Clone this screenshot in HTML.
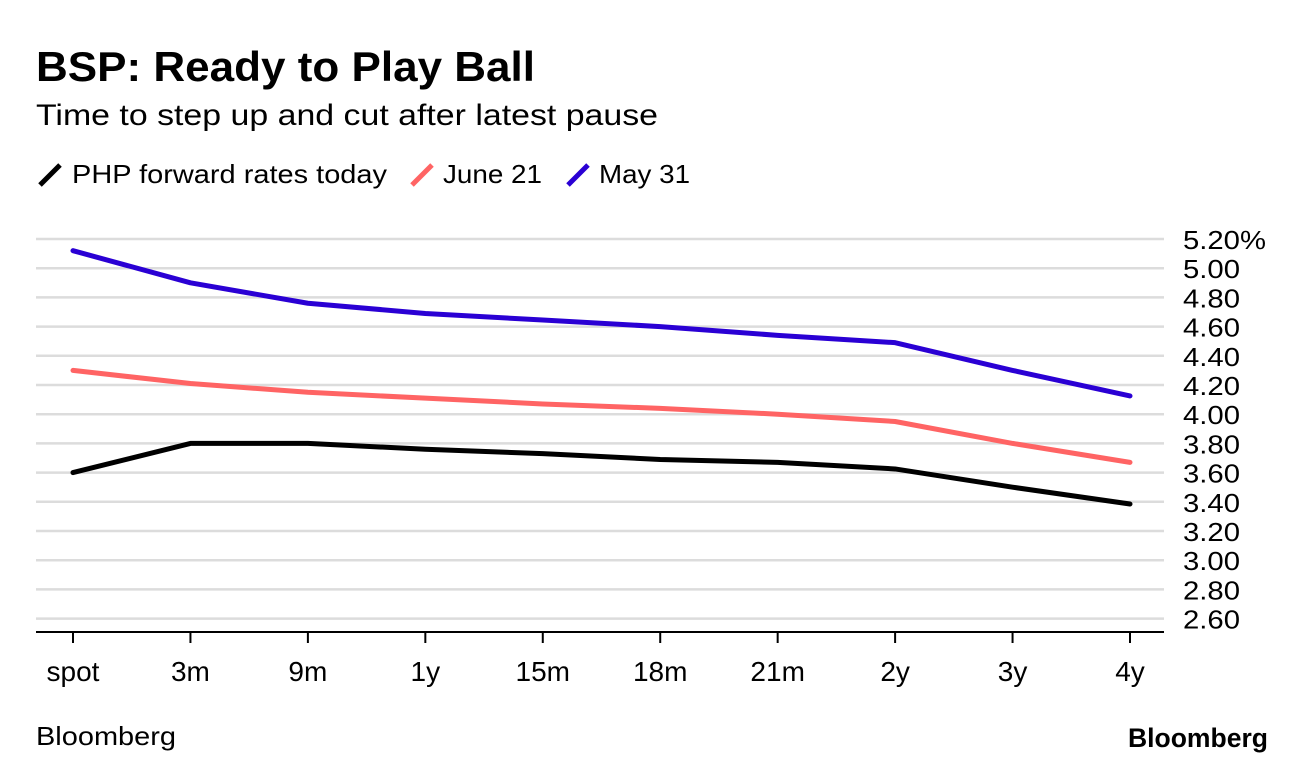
<!DOCTYPE html>
<html><head><meta charset="utf-8"><style>
body{margin:0;background:#fff;font-family:"Liberation Sans",sans-serif;}
svg text{font-family:"Liberation Sans",sans-serif;}
</style></head><body>
<svg width="1296" height="768" viewBox="0 0 1296 768">
<text x="36" y="81" font-size="42" font-weight="bold" fill="#000" textLength="499" lengthAdjust="spacingAndGlyphs">BSP: Ready to Play Ball</text>
<text x="36" y="125" font-size="30" fill="#000" textLength="622" lengthAdjust="spacingAndGlyphs">Time to step up and cut after latest pause</text>
<g>
<g><line x1="40" y1="185" x2="60" y2="165" stroke="#000" stroke-width="5"/><text x="72" y="183" font-size="26" textLength="315" lengthAdjust="spacingAndGlyphs">PHP forward rates today</text></g>
<g><line x1="412" y1="185" x2="432" y2="165" stroke="#ff6464" stroke-width="5"/><text x="443" y="183" font-size="26" textLength="99" lengthAdjust="spacingAndGlyphs">June 21</text></g>
<g><line x1="568" y1="185" x2="588" y2="165" stroke="#2a00d4" stroke-width="5"/><text x="599" y="183" font-size="26" textLength="91" lengthAdjust="spacingAndGlyphs">May 31</text></g>
</g>
<g id="grid"></g><g id="axis"></g><g id="series"></g>
<text x="36" y="745" font-size="26" textLength="140" lengthAdjust="spacingAndGlyphs">Bloomberg</text>
<text x="1128" y="747" font-size="27" font-weight="bold" textLength="140" lengthAdjust="spacingAndGlyphs">Bloomberg</text>
</svg>
<script>
const categories=["spot","3m","9m","1y","15m","18m","21m","2y","3y","4y"];
const todayValues=[3.60,3.80,3.80,3.76,3.73,3.69,3.67,3.625,3.50,3.385];
const june21Values=[4.30,4.21,4.15,4.11,4.07,4.04,4.00,3.95,3.80,3.67];
const may31Values=[5.12,4.90,4.76,4.69,4.645,4.60,4.54,4.49,4.30,4.125];
const yTicks=[5.2,5.0,4.8,4.6,4.4,4.2,4.0,3.8,3.6,3.4,3.2,3.0,2.8,2.6];
const NS="http://www.w3.org/2000/svg";
const xs=i=>73+i*(1130-73)/(categories.length-1);
const ys=v=>239+(5.2-v)/0.2*29.2;
function mk(t,a,p){const e=document.createElementNS(NS,t);for(const k in a)e.setAttribute(k,a[k]);p.appendChild(e);return e;}
const grid=document.getElementById('grid'),axis=document.getElementById('axis'),ser=document.getElementById('series');
yTicks.forEach((v,i)=>{
 const l=mk('line',{x1:36,x2:1164,y1:ys(v),y2:ys(v),stroke:'#dcdcdc','stroke-width':2.5},grid);
 
 
 const t=mk('text',{x:1183,y:ys(v)+10,'font-size':26,textLength:(i===0?83:57),lengthAdjust:'spacingAndGlyphs'},grid);
 t.textContent=v.toFixed(2)+(i===0?'%':'');
 
 
});
const ax=mk('line',{x1:36,x2:1164,y1:632,y2:632,stroke:'#000','stroke-width':2},axis);


categories.forEach((c,i)=>{
 const tk=mk('line',{x1:xs(i),x2:xs(i),y1:632,y2:643,stroke:'#000','stroke-width':2},axis);
 
 
 const t=mk('text',{x:xs(i),y:681,'font-size':28,'text-anchor':'middle'},axis);
 t.textContent=c;
 
 
});
[[may31Values,'#2a00d4','line-may31'],[june21Values,'#ff6464','line-june21'],[todayValues,'#000','line-today']].forEach(([vals,col,name])=>{
 const p=mk('polyline',{points:vals.map((v,i)=>xs(i)+','+ys(v)).join(' '),fill:'none',stroke:col,'stroke-width':5,'stroke-linejoin':'round','stroke-linecap':'round'},ser);
 
 
});
</script>
</body></html>
